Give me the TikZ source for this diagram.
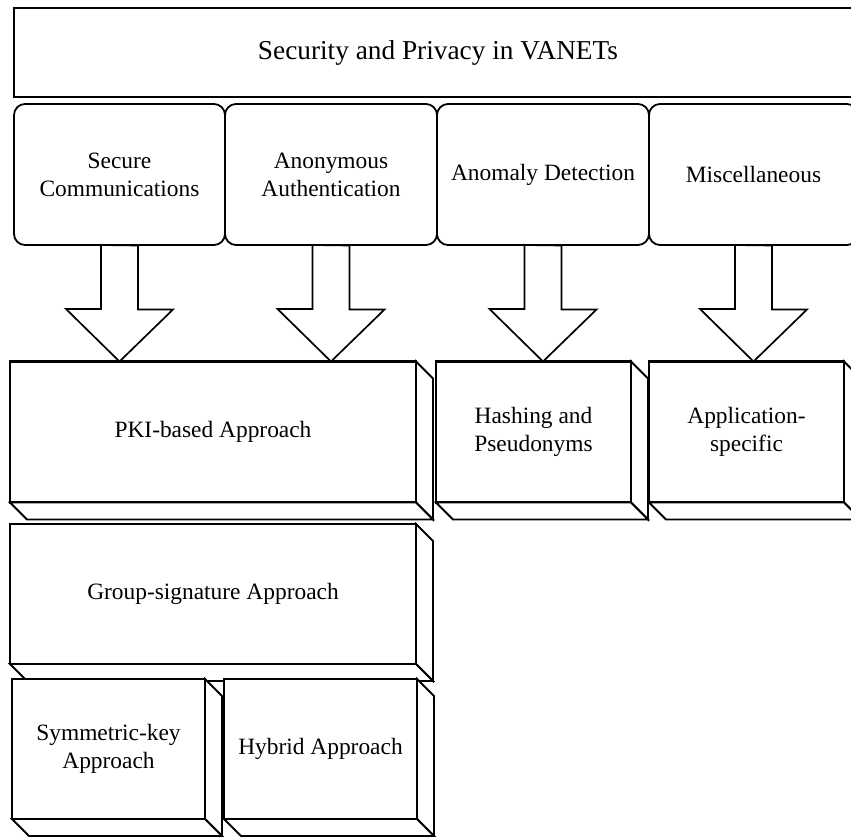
\documentclass[tikz,border=0pt]{standalone}
\usepackage{fontspec}
\setmainfont{Liberation Serif}
\usetikzlibrary{calc}
\tikzset{
  txt/.style={font=\fontsize{23.4}{28}\selectfont, align=center, inner sep=0pt, outer sep=0pt},
  titlebox/.style={txt, draw, line width=1.8pt, fill=white, font=\fontsize{27.3}{32}\selectfont},
  catbox/.style={txt, draw, line width=1.8pt, fill=white, rounded corners=11pt, minimum height=141pt},
  cubebox/.style={txt, draw, line width=2.1pt, fill=white},
  face/.style={draw, line width=1.8pt, fill=white, line join=miter},
  blockarrow/.style={draw, line width=1.7pt, fill=white, line join=miter}
}
\newcommand{\cubefaces}[1]{%
  \draw[face] (#1.north east) -- ++(17,17) -- ($(#1.south east)+(17,17)$) -- (#1.south east) -- cycle;
  \draw[face] (#1.south west) -- ($(#1.south west)+(17,17)$) -- ($(#1.south east)+(17,17)$) -- (#1.south east) -- cycle;
}
\begin{document}
\begin{tikzpicture}[x=1pt,y=-1pt]
\useasboundingbox (0,0) rectangle (851,837);
\fill[white] (0,0) rectangle (851,837);

% title
\node[titlebox, minimum width=848pt, minimum height=89pt] (title) at (438,52.5) {Security and Privacy in VANETs};

% categories
\node[catbox, minimum width=211pt] (sc) at (119.5,174.5) {Secure\\Communications};
\node[catbox, minimum width=212pt] (aa) at (331,174.5) {Anonymous\\Authentication};
\node[catbox, minimum width=212pt] (ad) at (543,174.5) {Anomaly Detection};
\node[catbox, minimum width=209pt] (mi) at (753.5,174.5) {Miscellaneous};

% approaches (cubes)
\node[cubebox, minimum width=406pt, minimum height=141pt] (pki) at (213,432) {PKI-based Approach};
\cubefaces{pki}
\node[cubebox, minimum width=195pt, minimum height=141pt] (hp) at (533.5,432) {Hashing and\\Pseudonyms};
\cubefaces{hp}
\node[cubebox, minimum width=195pt, minimum height=141pt] (as) at (746.5,432) {Application-\\specific};
\cubefaces{as}
\node[cubebox, minimum width=406pt, minimum height=140pt] (gs) at (213,594) {Group-signature Approach};
\cubefaces{gs}
\node[cubebox, minimum width=193pt, minimum height=140pt] (sk) at (108.5,749) {Symmetric-key\\Approach};
\cubefaces{sk}
\node[cubebox, minimum width=193pt, minimum height=140pt] (hy) at (320.5,749) {Hybrid Approach};
\cubefaces{hy}

% block arrows
\draw[blockarrow] (sc.south) ++(-18.5,0) -- ++(0,64) -- ++(-35,0) -- (sc.south |- pki.north) -- ++(53.5,-52) -- ++(-35,0) -- ++(0,-64) -- cycle;
\draw[blockarrow] (aa.south) ++(-18.5,0) -- ++(0,64) -- ++(-35,0) -- (aa.south |- pki.north) -- ++(53.5,-52) -- ++(-35,0) -- ++(0,-64) -- cycle;
\draw[blockarrow] (ad.south) ++(-18.5,0) -- ++(0,64) -- ++(-35,0) -- (ad.south |- hp.north) -- ++(53.5,-52) -- ++(-35,0) -- ++(0,-64) -- cycle;
\draw[blockarrow] (mi.south) ++(-18.5,0) -- ++(0,64) -- ++(-35,0) -- (mi.south |- as.north) -- ++(53.5,-52) -- ++(-35,0) -- ++(0,-64) -- cycle;
\end{tikzpicture}
\end{document}
